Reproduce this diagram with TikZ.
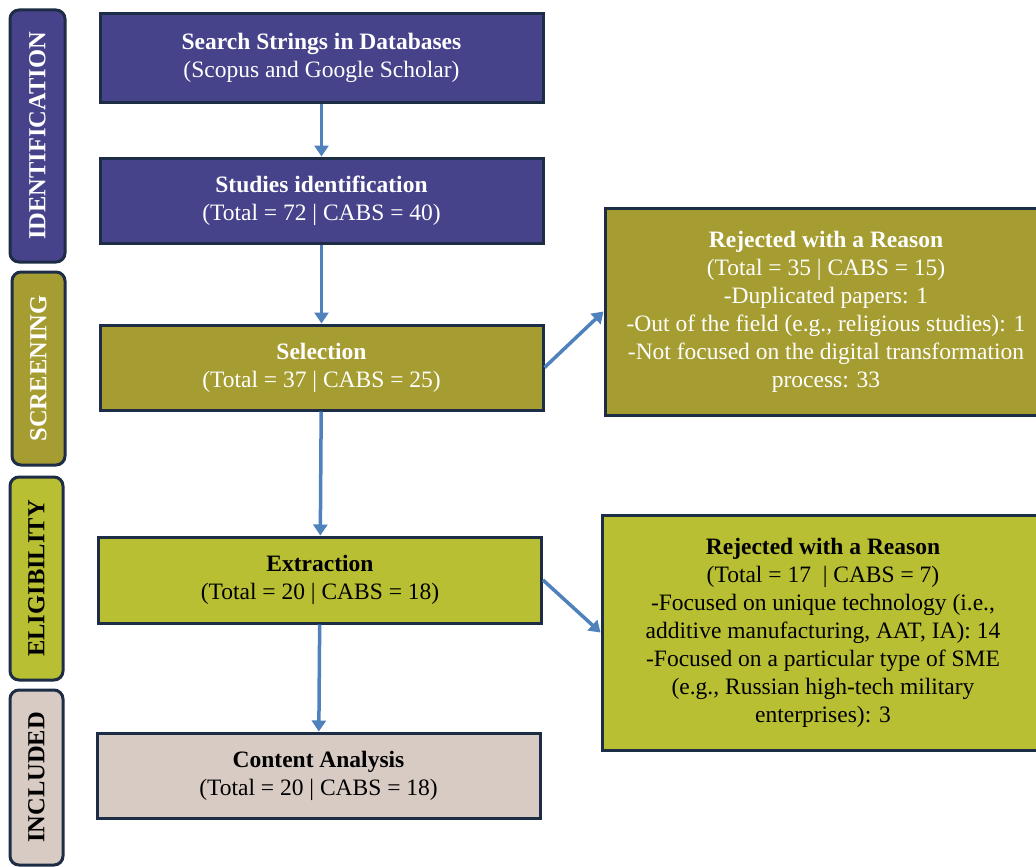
\documentclass[tikz,border=0pt]{standalone}
\usepackage{fontspec}
\setmainfont{Liberation Serif}
\usetikzlibrary{arrows.meta}
\definecolor{identblue}{RGB}{71,67,139}
\definecolor{screenolive}{RGB}{166,157,50}
\definecolor{eliggreen}{RGB}{184,191,50}
\definecolor{inclbeige}{RGB}{216,203,196}
\definecolor{borderdark}{RGB}{30,45,70}
\definecolor{arrowblue}{RGB}{79,129,189}
\newcommand{\boxfont}{\fontsize{23.5}{28}\selectfont}
\newcommand{\stagefont}{\fontsize{24.5}{28}\selectfont\bfseries}

\tikzset{
  stage/.style={draw=borderdark, line width=3pt, rounded corners=9pt, rotate=90,
    font=\stagefont, inner sep=0pt},
  flowbox/.style={draw=borderdark, line width=3pt, align=center, font=\boxfont,
    minimum width=443pt, minimum height=85pt, inner sep=0pt},
  flowarrow/.style={draw=arrowblue, line width=3.5pt,
    -{Triangle[width=14pt,length=11pt]}}
}

\begin{document}
\begin{tikzpicture}[x=1pt,y=-1pt]
  \useasboundingbox (0,0) rectangle (1036,867);
  \clip (0,0) rectangle (1036,867);
  \fill[white] (0,0) rectangle (1036,867);

  % stages
  \node[stage, fill=identblue, text=white, minimum width=252pt, minimum height=55pt] (ident) at (37.5,136) {IDENTIFICATION};
  \node[stage, fill=screenolive, text=white, minimum width=193pt, minimum height=53pt] (screen) at (38.5,368.5) {SCREENING};
  \node[stage, fill=eliggreen, text=black, minimum width=203pt, minimum height=53pt] (elig) at (36.5,578.5) {ELIGIBILITY};
  \node[stage, fill=inclbeige, text=black, minimum width=175pt, minimum height=53pt] (incl) at (36.5,777.5) {INCLUDED};

  % main flow
  \node[flowbox, fill=identblue, text=white, minimum height=88pt] (search) at (321.5,58)
    {\textbf{Search Strings in Databases}\\(Scopus and Google Scholar)};
  \node[flowbox, fill=identblue, text=white] (studies) at (321.5,200.5)
    {\textbf{Studies identification}\\(Total = 72 | CABS = 40)};
  \node[flowbox, fill=screenolive, text=white] (select) at (321.5,367.5)
    {\textbf{Selection}\\(Total = 37 | CABS = 25)};
  \node[flowbox, fill=eliggreen, text=black, minimum height=86pt] (extract) at (320,580)
    {\textbf{Extraction}\\(Total = 20 | CABS = 18)};
  \node[flowbox, fill=inclbeige, text=black] (content) at (318.5,775.5)
    {\textbf{Content Analysis}\\(Total = 20 | CABS = 18)};

  % rejections
  \node[flowbox, fill=screenolive, text=white, minimum width=442pt, minimum height=207pt] (reject1) at (826,311.5)
    {\textbf{Rejected with a Reason}\\(Total = 35 | CABS = 15)\\-Duplicated papers: 1\\
     -Out of the field (e.g., religious studies): 1\\-Not focused on the digital transformation\\process: 33};
  \node[flowbox, fill=eliggreen, text=black, minimum width=442pt, minimum height=235pt] (reject2) at (823,632.5)
    {\textbf{Rejected with a Reason}\\(Total = 17 \ | CABS = 7)\\-Focused on unique technology (i.e.,\\
     additive manufacturing, AAT, IA): 14\\-Focused on a particular type of SME\\
     (e.g., Russian high-tech military\\enterprises): 3};

  \draw[flowarrow] (search) -- (studies);
  \draw[flowarrow] (studies) -- (select);
  \draw[flowarrow] (select) -- (extract);
  \draw[flowarrow] (extract) -- (content);
  \draw[flowarrow] (select.east) -- (reject1.west);
  \draw[flowarrow] (extract.east) -- (reject2.west);
\end{tikzpicture}
\end{document}
